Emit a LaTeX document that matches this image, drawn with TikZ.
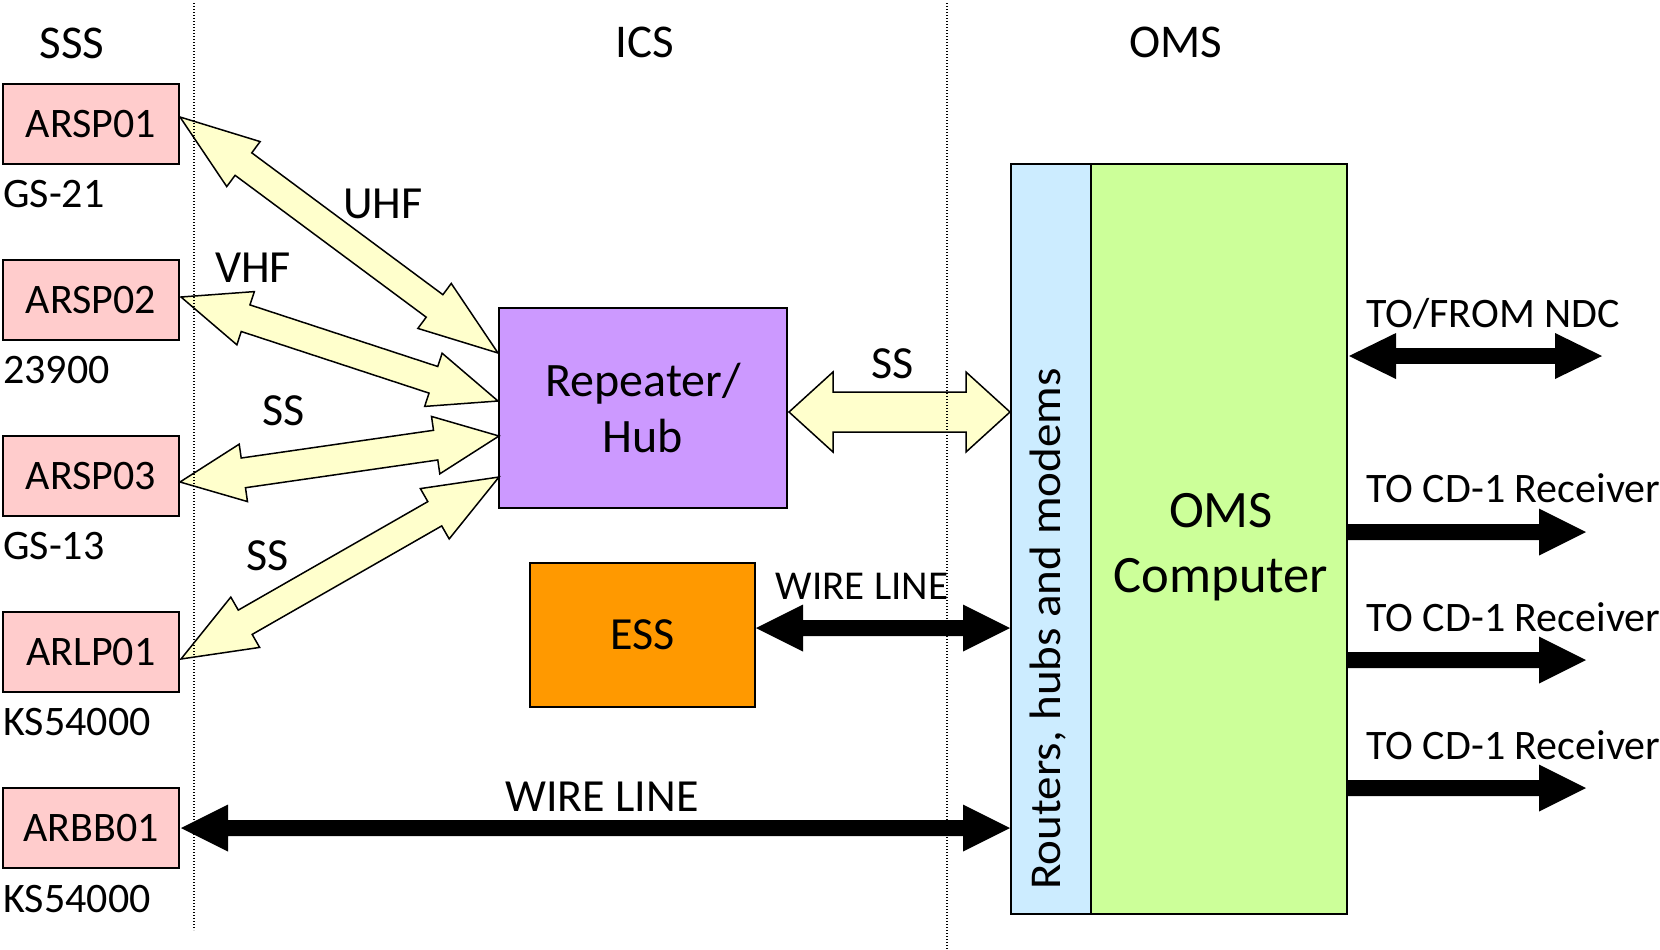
\documentclass[tikz,border=0pt]{standalone}
\usepackage{fontspec}
\setmainfont{Carlito}
\usepackage{graphicx}
\usetikzlibrary{calc}
\definecolor{pinkbox}{HTML}{FFCCCC}
\definecolor{purplebox}{HTML}{CC99FF}
\definecolor{orangebox}{HTML}{FF9900}
\definecolor{bluebox}{HTML}{CCECFF}
\definecolor{greenbox}{HTML}{CCFF99}
\definecolor{yellowarrow}{HTML}{FFFFCC}
% double block arrow: #1 style, #2 A, #3 B, #4 head length, #5 head half width, #6 shaft half width
\newcommand\dblarrow[6]{%
  \path[#1] let \p1=($(#3)-(#2)$), \n1={atan2(\y1,\x1)} in
    (#2) -- ($(#2)+(\n1:#4)+({\n1+90}:#5)$) -- ($(#2)+(\n1:#4)+({\n1+90}:#6)$)
    -- ($(#3)+(\n1:-#4)+({\n1+90}:#6)$) -- ($(#3)+(\n1:-#4)+({\n1+90}:#5)$)
    -- (#3)
    -- ($(#3)+(\n1:-#4)+({\n1-90}:#5)$) -- ($(#3)+(\n1:-#4)+({\n1-90}:#6)$)
    -- ($(#2)+(\n1:#4)+({\n1-90}:#6)$) -- ($(#2)+(\n1:#4)+({\n1-90}:#5)$)
    -- cycle;}
% single block arrow from A (flat) to B (tip)
\newcommand\sglarrow[6]{%
  \path[#1] let \p1=($(#3)-(#2)$), \n1={atan2(\y1,\x1)} in
    ($(#2)+({\n1+90}:#6)$) -- ($(#3)+(\n1:-#4)+({\n1+90}:#6)$) -- ($(#3)+(\n1:-#4)+({\n1+90}:#5)$)
    -- (#3) -- ($(#3)+(\n1:-#4)+({\n1-90}:#5)$) -- ($(#3)+(\n1:-#4)+({\n1-90}:#6)$)
    -- ($(#2)+({\n1-90}:#6)$) -- cycle;}
\begin{document}
\begin{tikzpicture}[x=0.5pt,y=-0.5pt,
  boxstyle/.style={draw=black, line width=1pt, inner sep=0pt},
  station/.style={boxstyle, fill=pinkbox, minimum width=88pt, minimum height=40pt,
    font=\fontsize{21pt}{25pt}\selectfont},
  small/.style={inner sep=0pt, anchor=base west, font=\fontsize{21pt}{25pt}\selectfont},
  lbl/.style={inner sep=0pt, anchor=base, font=\fontsize{23pt}{27pt}\selectfont},
  head/.style={inner sep=0pt, anchor=base, font=\fontsize{23.5pt}{28pt}\selectfont},
  sepline/.style={draw=black, line width=0.6pt, dash pattern=on 0.6pt off 0.9pt},
  yarrow/.style={fill=yellowarrow, draw=black, line width=0.75pt, line join=miter},
  barrow/.style={fill=black}]
\useasboundingbox (0,0) rectangle (1660,949);

% headers
\node[head] (hsss) at (72,58) {SSS};
\node[head] (hics) at (645,57) {ICS};
\node[head] (homs) at (1176,57) {OMS};

% stations
\node[station] (arsp01) at (91,124) {ARSP01};
\node[station] (arsp02) at (91,300) {ARSP02};
\node[station] (arsp03) at (91,476) {ARSP03};
\node[station] (arlp01) at (91,652) {ARLP01};
\node[station] (arbb01) at (91,828) {ARBB01};
\node[small] (l1) at (3,207) {GS-21};
\node[small] (l2) at (3,383) {23900};
\node[small] (l3) at (3,559) {GS-13};
\node[small] (l4) at (3,735) {KS54000};
\node[small] (l5) at (3,912) {KS54000};

% ICS boxes
\node[boxstyle, fill=purplebox, minimum width=144pt, minimum height=100pt, align=center,
  text depth=0pt, font=\fontsize{24pt}{28pt}\selectfont] (rep) at (643,408) {Repeater/\\Hub};
\node[boxstyle, fill=orangebox, minimum width=112.5pt, minimum height=72pt,
  font=\fontsize{23pt}{27pt}\selectfont] (ess) at (642.5,635) {ESS};

% OMS boxes
\node[boxstyle, fill=bluebox, minimum width=40pt, minimum height=375pt] (rout) at (1051,539) {};
\node[boxstyle, fill=greenbox, minimum width=128pt, minimum height=375pt] (oms) at (1219,539) {};
\node[align=center, inner sep=0pt, text depth=0pt, font=\fontsize{26.3pt}{32.5pt}\selectfont]
  (omstxt) at (1221,543) {OMS\\Computer};
\node[rotate=90, anchor=base, inner sep=0pt, font=\fontsize{22pt}{26pt}\selectfont]
  (routtxt) at (1060,629) {\scalebox{1.07}[1]{Routers, hubs and modems}};

% arrow end points
\coordinate (uA) at ($(arsp01.east)+(0,-7)$);
\coordinate (uB) at ($(rep.west)+(0,-55)$);
\coordinate (vA) at ($(arsp02.east)+(1,-3)$);
\coordinate (vB) at ($(rep.west)+(0,-7)$);
\coordinate (sA) at ($(arsp03.east)+(0,6)$);
\coordinate (sB) at ($(rep.west)+(1,28)$);
\coordinate (lA) at ($(arlp01.east)+(1,7)$);
\coordinate (lB) at ($(rep.west)+(1,69)$);
\coordinate (rA) at ($(rep.east)+(1,4)$);
\coordinate (rB) at ($(rout.west)+(0,-127)$);
\coordinate (eA) at ($(ess.east)+(0,-7)$);
\coordinate (eB) at ($(rout.west)+(0,89)$);
\coordinate (bA) at ($(arbb01.east)+(1,0)$);
\coordinate (bB) at ($(rout.west)+(0,289)$);
\coordinate (nA) at ($(oms.east)+(1,-183)$);
\coordinate (nB) at (1602,356);
\coordinate (c1A) at ($(oms.east)+(0,-7)$);
\coordinate (c1B) at (1586,532);
\coordinate (c2A) at ($(oms.east)+(0,121)$);
\coordinate (c2B) at (1586,660);
\coordinate (c3A) at ($(oms.east)+(0,249)$);
\coordinate (c3B) at (1586,788);

% yellow radio arrows
\dblarrow{yarrow}{uA}{uB}{39.5pt}{14pt}{7pt}
\dblarrow{yarrow}{vA}{vB}{34pt}{14pt}{7pt}
\dblarrow{yarrow}{sA}{sB}{32pt}{14.5pt}{7.5pt}
\dblarrow{yarrow}{lA}{lB}{37pt}{14.5pt}{7pt}
\dblarrow{yarrow}{rA}{rB}{22pt}{20pt}{10pt}

% black wire arrows
\dblarrow{barrow}{eA}{eB}{23.5pt}{11.75pt}{4pt}
\dblarrow{barrow}{bA}{bB}{23.5pt}{11.75pt}{4pt}
\dblarrow{barrow}{nA}{nB}{23.5pt}{11.5pt}{3.9pt}
\sglarrow{barrow}{c1A}{c1B}{23.5pt}{11.75pt}{4pt}
\sglarrow{barrow}{c2A}{c2B}{23.5pt}{11.75pt}{4pt}
\sglarrow{barrow}{c3A}{c3B}{23.5pt}{11.75pt}{4pt}

% separators
\coordinate (d1t) at (194,3);
\coordinate (d1b) at (194,930);
\coordinate (d2t) at (947,3);
\coordinate (d2b) at (947,949);
\draw[sepline] (d1t) -- (d1b);
\draw[sepline] (d2t) -- (d2b);

% connector labels
\node[lbl] (tuhf) at (383,218) {UHF};
\node[lbl] (tvhf) at (253,282) {VHF};
\node[lbl] (tss1) at (284,425) {SS};
\node[lbl] (tss2) at (268,570) {SS};
\node[lbl] (tss3) at (893,378) {SS};
\node[inner sep=0pt, anchor=base, font=\fontsize{20.5pt}{24pt}\selectfont] (twl1) at (862,599) {WIRE LINE};
\node[lbl] (twl2) at (602,811) {WIRE LINE};
\node[small] (tndc) at (1366,327) {TO/FROM NDC};
\node[small] (tcd1) at (1366,502) {TO CD-1 Receiver};
\node[small] (tcd2) at (1366,631) {TO CD-1 Receiver};
\node[small] (tcd3) at (1366,759) {TO CD-1 Receiver};
\end{tikzpicture}
\end{document}
